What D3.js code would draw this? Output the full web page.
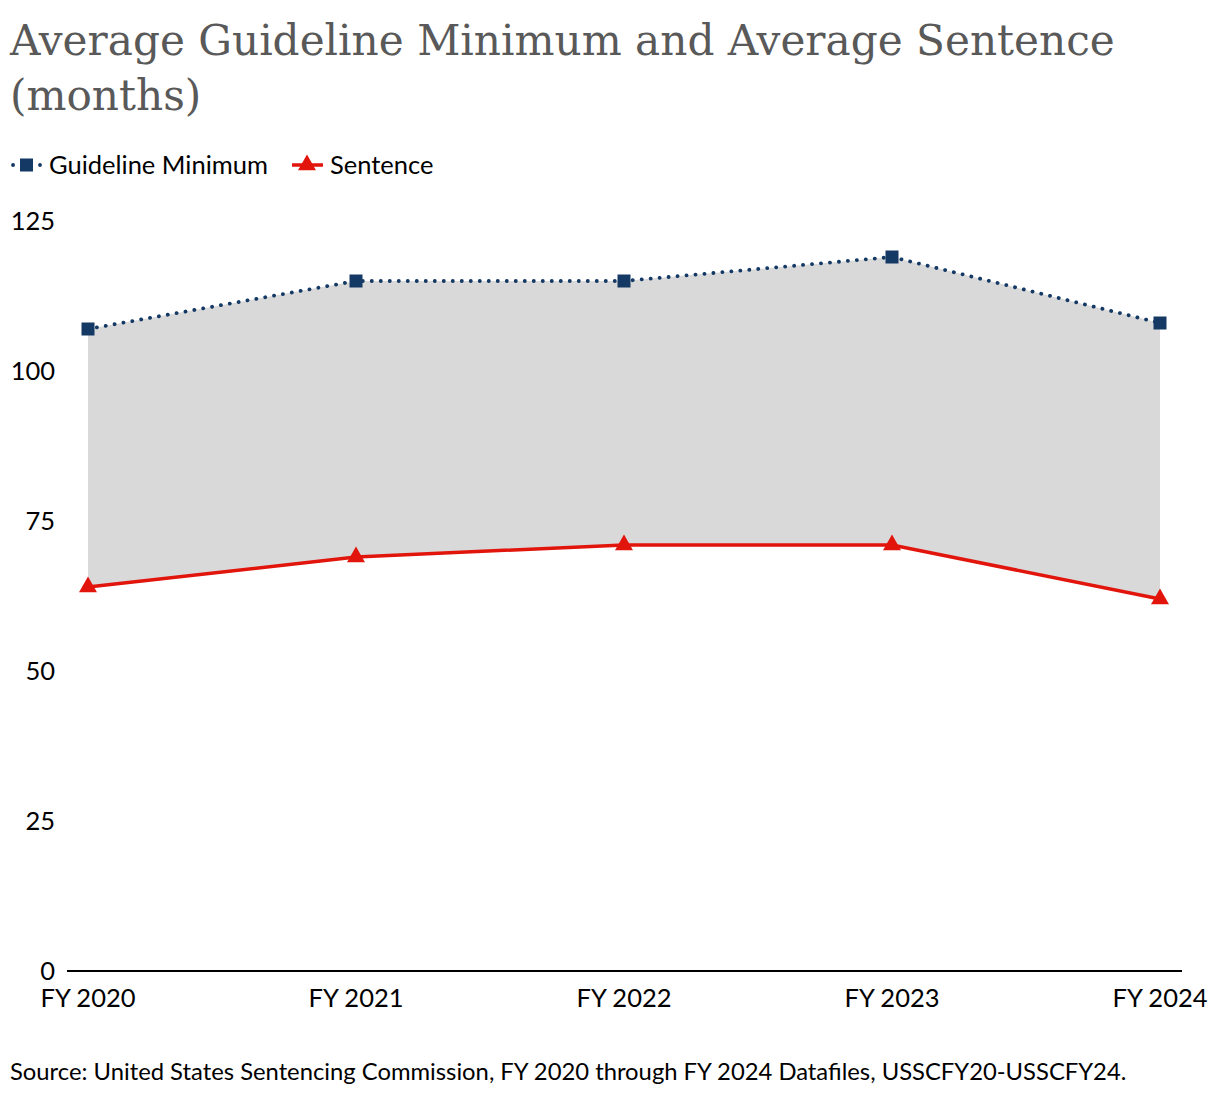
<!DOCTYPE html>
<html lang="en">
<head>
    <meta charset="UTF-8">
    <title>Average Guideline Minimum and Average Sentence</title>
    <script src="https://d3js.org/d3.v7.min.js"></script>
    <style>
        body { margin: 0; background: white; }
        svg { display: block; }
        .title { font-family: "DejaVu Serif", serif; fill: #595959; }
        .lbl { font-family: Lato, sans-serif; fill: #000; }
    </style>
</head>
<body>
    <div id="chart"></div>
    <script>
        // data
        const years = ["FY 2020", "FY 2021", "FY 2022", "FY 2023", "FY 2024"];
        const guidelineMin = [107, 115, 115, 119, 108];
        const sentence = [64, 69, 71, 71, 62];
        const yTicks = [0, 25, 50, 75, 100, 125];

        const W = 1220, H = 1098;
        const navy = "#143964", red = "#e2150c";
        const fs = 25.5;

        const svg = d3.select("#chart").append("svg")
            .attr("width", W)
            .attr("height", H);

        // title, two lines
        const title = svg.append("text").attr("class", "title").attr("x", 10).attr("font-size", 44);
        title.append("tspan").attr("x", 10).attr("y", 55).text("Average Guideline Minimum and Average Sentence");
        title.append("tspan").attr("x", 10).attr("y", 110).text("(months)");
        // fit first line to the reference width
        const firstLen = title.select("tspan").node().getComputedTextLength();
        title.attr("font-size", 44 * 1105 / firstLen);

        // scales
        const x = d3.scalePoint().domain(years).range([88, 1160]);
        const y = d3.scaleLinear().domain([0, 125]).range([971, 221]);

        // shaded band between the two series
        const band = years.map((d, i) => ({ year: d, hi: guidelineMin[i], lo: sentence[i] }));
        svg.append("path")
            .datum(band)
            .attr("fill", "#d9d9d9")
            .attr("d", d3.area().x(d => x(d.year)).y0(d => y(d.lo)).y1(d => y(d.hi)));

        // y labels only (no axis line)
        svg.append("g")
            .selectAll("text")
            .data(yTicks)
            .join("text")
            .attr("class", "lbl")
            .attr("x", 55)
            .attr("y", d => y(d))
            .attr("dy", "0.35em")
            .attr("text-anchor", "end")
            .attr("font-size", fs)
            .text(d => d);

        // x axis baseline
        svg.append("line")
            .attr("x1", 67).attr("x2", 1182)
            .attr("y1", y(0)).attr("y2", y(0))
            .attr("stroke", "#000").attr("stroke-width", 2);

        svg.append("g")
            .selectAll("text")
            .data(years)
            .join("text")
            .attr("class", "lbl")
            .attr("x", d => x(d))
            .attr("y", 1007)
            .attr("text-anchor", "middle")
            .attr("font-size", fs)
            .text(d => d);

        // guideline minimum - dotted line with squares
        const line = d3.line().x(d => d[0]).y(d => d[1]);
        const gPts = years.map((d, i) => [x(d), y(guidelineMin[i])]);
        svg.append("path")
            .attr("d", line(gPts))
            .attr("fill", "none")
            .attr("stroke", navy)
            .attr("stroke-width", 3.8)
            .attr("stroke-linecap", "round")
            .attr("stroke-dasharray", "0.1 8.9");
        svg.selectAll(".sq")
            .data(gPts)
            .join("rect")
            .attr("x", d => d[0] - 6.5)
            .attr("y", d => d[1] - 6.5)
            .attr("width", 13)
            .attr("height", 13)
            .attr("fill", navy);

        // sentence - solid red line with triangles
        const sPts = years.map((d, i) => [x(d), y(sentence[i])]);
        svg.append("path")
            .attr("d", line(sPts))
            .attr("fill", "none")
            .attr("stroke", red)
            .attr("stroke-width", 3.5);
        const tri = d3.symbol().type(d3.symbolTriangle).size(140);
        svg.selectAll(".tri")
            .data(sPts)
            .join("path")
            .attr("transform", d => `translate(${d[0]},${d[1]})`)
            .attr("d", tri)
            .attr("fill", red);

        // legend
        const ly = 165;
        svg.append("line")
            .attr("x1", 13).attr("x2", 40).attr("y1", ly).attr("y2", ly)
            .attr("stroke", navy).attr("stroke-width", 3.8)
            .attr("stroke-linecap", "round").attr("stroke-dasharray", "0.1 26.9");
        svg.append("rect").attr("x", 20).attr("y", ly - 6.5).attr("width", 13).attr("height", 13).attr("fill", navy);
        svg.append("text").attr("class", "lbl").attr("x", 49).attr("y", ly).attr("dy", "0.35em")
            .attr("font-size", fs).text("Guideline Minimum");

        svg.append("line")
            .attr("x1", 292).attr("x2", 323).attr("y1", ly).attr("y2", ly)
            .attr("stroke", red).attr("stroke-width", 3.5);
        svg.append("path").attr("transform", `translate(307,${ly})`).attr("d", tri).attr("fill", red);
        svg.append("text").attr("class", "lbl").attr("x", 330).attr("y", ly).attr("dy", "0.35em")
            .attr("font-size", fs).text("Sentence");

        // source note
        svg.append("text").attr("class", "lbl").attr("x", 10).attr("y", 1080)
            .attr("font-size", 23.8)
            .text("Source: United States Sentencing Commission, FY 2020 through FY 2024 Datafiles, USSCFY20-USSCFY24.");
    </script>
</body>
</html>
